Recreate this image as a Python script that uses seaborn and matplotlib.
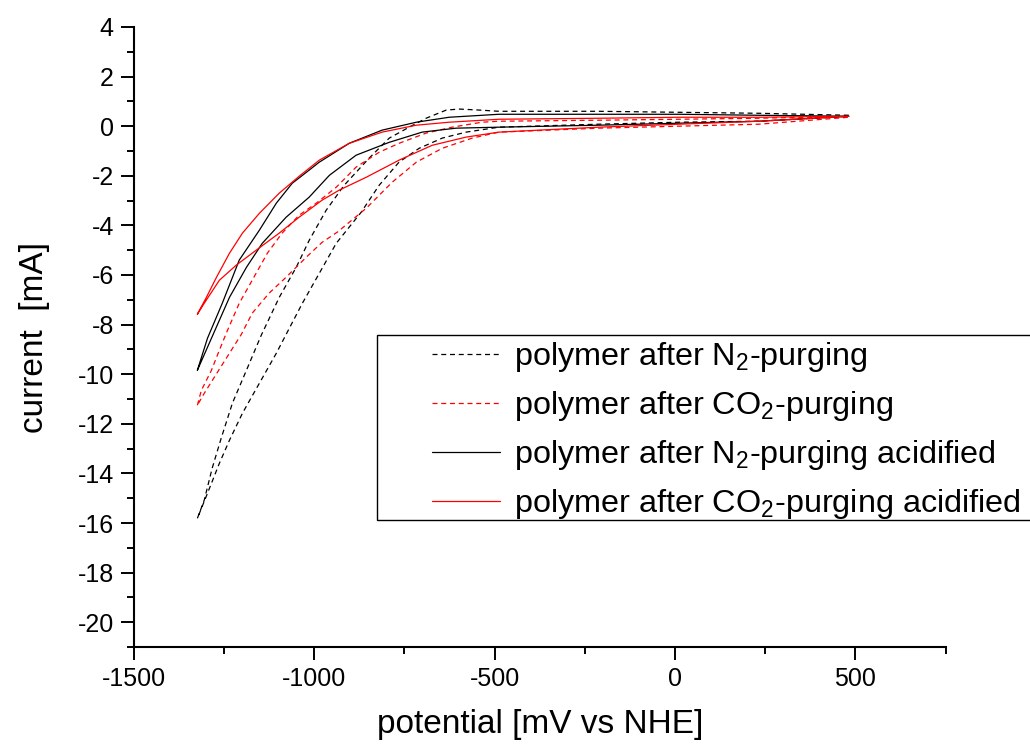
import numpy as np
import pandas as pd
import matplotlib
matplotlib.use("Agg")
import matplotlib.pyplot as plt
import seaborn as sns
from matplotlib.patches import Rectangle
from matplotlib.ticker import MultipleLocator

# Cyclic voltammograms: each loop is stored as its upper and lower branch
# potential in mV vs NHE, current in mA

# polymer after N2-purging
n2_up_x = [-1324, -1305, -1283, -1258, -1227, -1188, -1147, -1097, -1050, -1014, -967, -917,
           -848, -792, -737, -690, -634, -598, -543, -488, -211, 11, 233, 482]
n2_up_y = [-15.81, -15.08, -13.79, -12.58, -11.17, -9.84, -8.43, -6.90, -5.69, -4.60, -3.39, -2.38,
           -1.29, -0.48, -0.04, 0.32, 0.65, 0.69, 0.65, 0.60, 0.60, 0.56, 0.52, 0.44]
n2_lo_x = [-1324, -1296, -1263, -1235, -1199, -1152, -1105, -1075, -1033, -986, -939, -870,
           -820, -765, -709, -645, -579, -488, -211, 11, 233, 482]
n2_lo_y = [-15.81, -14.80, -13.59, -12.66, -11.57, -10.36, -9.15, -8.31, -7.14, -5.93, -4.72, -3.47,
           -2.38, -1.45, -0.89, -0.48, -0.24, -0.04, 0.08, 0.16, 0.20, 0.40]

# polymer after CO2-purging
co2_up_x = [-1324, -1313, -1285, -1263, -1244, -1208, -1172, -1130, -1089, -1042, -994, -939,
            -884, -820, -765, -690, -618, -535, -488, -211, 11, 233, 482]
co2_up_y = [-11.25, -10.65, -9.84, -9.03, -8.35, -7.14, -6.21, -5.12, -4.31, -3.59, -3.10, -2.46,
            -1.65, -1.05, -0.69, -0.28, -0.04, 0.16, 0.20, 0.24, 0.28, 0.32, 0.40]
co2_lo_x = [-1324, -1305, -1277, -1235, -1202, -1172, -1125, -1078, -1022, -978, -936, -856,
            -784, -717, -645, -562, -488, -211, 11, 233, 482]
co2_lo_y = [-11.25, -10.77, -10.12, -9.15, -8.39, -7.54, -6.73, -6.09, -5.28, -4.68, -4.27, -3.31,
            -2.26, -1.45, -0.89, -0.48, -0.24, -0.08, 0.00, 0.08, 0.36]

# polymer after N2-purging, acidified
n2a_up_x = [-1324, -1296, -1255, -1208, -1152, -1105, -1061, -1014, -986, -903, -812, -717,
            -626, -488, -211, 11, 233, 482]
n2a_up_y = [-9.84, -8.55, -7.14, -5.40, -4.19, -3.10, -2.30, -1.77, -1.45, -0.69, -0.16, 0.16,
            0.36, 0.48, 0.48, 0.48, 0.44, 0.40]
n2a_lo_x = [-1324, -1285, -1235, -1188, -1144, -1078, -1014, -958, -884, -792, -701, -607,
            -488, -211, 11, 233, 482]
n2a_lo_y = [-9.84, -8.55, -6.90, -5.69, -4.72, -3.67, -2.86, -1.98, -1.17, -0.65, -0.24, -0.08,
            -0.04, 0.04, 0.12, 0.20, 0.40]

# polymer after CO2-purging, acidified
co2a_up_x = [-1324, -1299, -1271, -1235, -1199, -1152, -1097, -1042, -986, -903, -812, -717,
             -626, -488, -211, 11, 233, 482]
co2a_up_y = [-7.58, -6.90, -6.09, -5.12, -4.31, -3.51, -2.70, -2.02, -1.37, -0.69, -0.24, 0.04,
             0.16, 0.28, 0.32, 0.36, 0.36, 0.40]
co2a_lo_x = [-1324, -1305, -1263, -1216, -1161, -1097, -1042, -978, -931, -856, -765, -673,
             -579, -488, -211, 11, 233, 482]
co2a_lo_y = [-7.58, -7.14, -6.21, -5.60, -5.00, -4.31, -3.67, -2.98, -2.58, -2.06, -1.37, -0.77,
             -0.44, -0.24, -0.04, 0.08, 0.20, 0.40]

labels = [
    "polymer after N$_{2}$-purging",
    "polymer after CO$_{2}$-purging",
    "polymer after N$_{2}$-purging acidified",
    "polymer after CO$_{2}$-purging acidified",
]

sns.set_style("ticks")
plt.rcParams["font.family"] = ["Liberation Sans", "DejaVu Sans"]
plt.rcParams["axes.unicode_minus"] = False
plt.rcParams["mathtext.fontset"] = "custom"
plt.rcParams["mathtext.rm"] = "Liberation Sans"
plt.rcParams["mathtext.it"] = "Liberation Sans:italic"
plt.rcParams["mathtext.bf"] = "Liberation Sans:bold"


def loop_frame(up_x, up_y, lo_x, lo_y):
    """Join the two branches into one closed sweep."""
    x = list(up_x) + list(lo_x[::-1])
    y = list(up_y) + list(lo_y[::-1])
    return pd.DataFrame({"E": x, "I": y})


curves = [
    (loop_frame(n2_up_x, n2_up_y, n2_lo_x, n2_lo_y), "black", (0, (4, 3))),
    (loop_frame(co2_up_x, co2_up_y, co2_lo_x, co2_lo_y), "#ff0000", (0, (4, 3))),
    (loop_frame(n2a_up_x, n2a_up_y, n2a_lo_x, n2a_lo_y), "black", "-"),
    (loop_frame(co2a_up_x, co2a_up_y, co2a_lo_x, co2a_lo_y), "#ff0000", "-"),
]

fig = plt.figure(figsize=(10.30, 7.45), dpi=100)
ax = fig.add_axes([0.130, 0.1315, 0.788, 0.8323])

handles = []
for (df, color, ls), lab in zip(curves, labels):
    sns.lineplot(data=df, x="E", y="I", sort=False, estimator=None, ax=ax,
                 color=color, linewidth=0.9, linestyle=ls)
    handles.append(ax.lines[-1])

ax.set_xlim(-1500, 750)
ax.set_ylim(-21, 4)
ax.xaxis.set_major_locator(MultipleLocator(500))
ax.xaxis.set_minor_locator(MultipleLocator(250))
ax.yaxis.set_major_locator(MultipleLocator(2))
ax.yaxis.set_minor_locator(MultipleLocator(1))
ax.tick_params(which="major", direction="out", length=9.5, width=1.4, labelsize=18,
               pad=5, color="black", labelcolor="black")
ax.tick_params(which="minor", direction="out", length=5, width=1.4, color="black")
for side in ("top", "right"):
    ax.spines[side].set_visible(False)
for side in ("left", "bottom"):
    ax.spines[side].set_linewidth(1.5)
    ax.spines[side].set_color("black")

ax.set_xlabel("potential [mV vs NHE]", fontsize=24, labelpad=13, color="black")
ax.set_ylabel("current  [mA]", fontsize=24, labelpad=20, color="black")

# Legend box runs past the right edge of the figure
fig.patches.append(Rectangle((377 / 1030, 1 - 520 / 745), 700 / 1030, 185 / 745,
                             transform=fig.transFigure, fill=False, edgecolor="black",
                             linewidth=1.0, clip_on=False))
leg = fig.legend(handles, labels, loc="upper left", bbox_to_anchor=(427 / 1030, 1 - 335 / 745),
                 frameon=False, fontsize=23.3, handlelength=2.1, handletextpad=0.45,
                 labelspacing=0.47, borderpad=0.15, borderaxespad=0)
for t in leg.get_texts():
    t.set_color("black")

fig.savefig("out.png", dpi=100)
